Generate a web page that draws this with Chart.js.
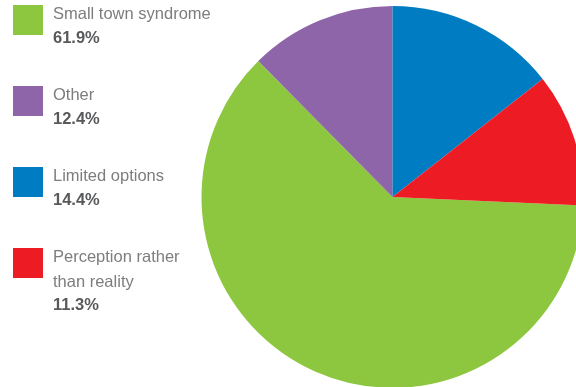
<!DOCTYPE html>
<html>
<head>
<meta charset="utf-8">
<script src="https://cdn.jsdelivr.net/npm/chart.js@4/dist/chart.umd.min.js"></script>
<style>
  html, body { margin: 0; padding: 0; background: #ffffff; overflow: hidden; width: 576px; height: 387px; }
  #wrap { position: relative; width: 600px; height: 400px; }
</style>
</head>
<body>
<div id="wrap"><canvas id="c" width="600" height="400"></canvas></div>
<script>
// Data (legend order)
const categories = ['Small town syndrome', 'Other', 'Limited options', ['Perception rather', 'than reality']];
const shares = [61.9, 12.4, 14.4, 11.3];
const shareLabels = ['61.9%', '12.4%', '14.4%', '11.3%'];
const colors = ['#8dc63f', '#8e65a9', '#007cc3', '#ed1c24'];

const total = shares.reduce((a, b) => a + b, 0);
// first slice (Small town) starts after the last two slices, which begin at 12 o'clock
const startRotation = 360 * (shares[2] + shares[3]) / total;

const legendPlugin = {
  id: 'sideLegend',
  afterDraw(chart) {
    const ctx = chart.ctx;
    const labels = chart.data.labels;
    const ds = chart.data.datasets[0];
    ctx.save();
    labels.forEach((lab, i) => {
      const y0 = 5 + i * 81;
      ctx.fillStyle = ds.backgroundColor[i];
      ctx.fillRect(13, y0, 30, 30);
      const lines = Array.isArray(lab) ? lab : [lab];
      ctx.textBaseline = 'middle';
      ctx.textAlign = 'left';
      ctx.fillStyle = '#7d7d7d';
      ctx.font = '16.5px "Liberation Sans", Arial, sans-serif';
      lines.forEach((ln, k) => ctx.fillText(ln, 53, y0 + 9.5 + k * 24.5));
      ctx.fillStyle = '#58595b';
      ctx.font = 'bold 16.5px "Liberation Sans", Arial, sans-serif';
      ctx.fillText(shareLabels[i], 53, y0 + 9.5 + lines.length * 24);
    });
    ctx.restore();
  }
};

new Chart(document.getElementById('c'), {
  type: 'pie',
  data: {
    labels: categories,
    datasets: [{
      data: shares,
      backgroundColor: colors,
      borderWidth: 0
    }]
  },
  options: {
    responsive: false,
    animation: false,
    rotation: startRotation,
    layout: { padding: { left: 201.5, right: 16.5, top: 6, bottom: 12 } },
    plugins: { legend: { display: false }, tooltip: { enabled: false } }
  },
  plugins: [legendPlugin]
});
</script>
</body>
</html>
